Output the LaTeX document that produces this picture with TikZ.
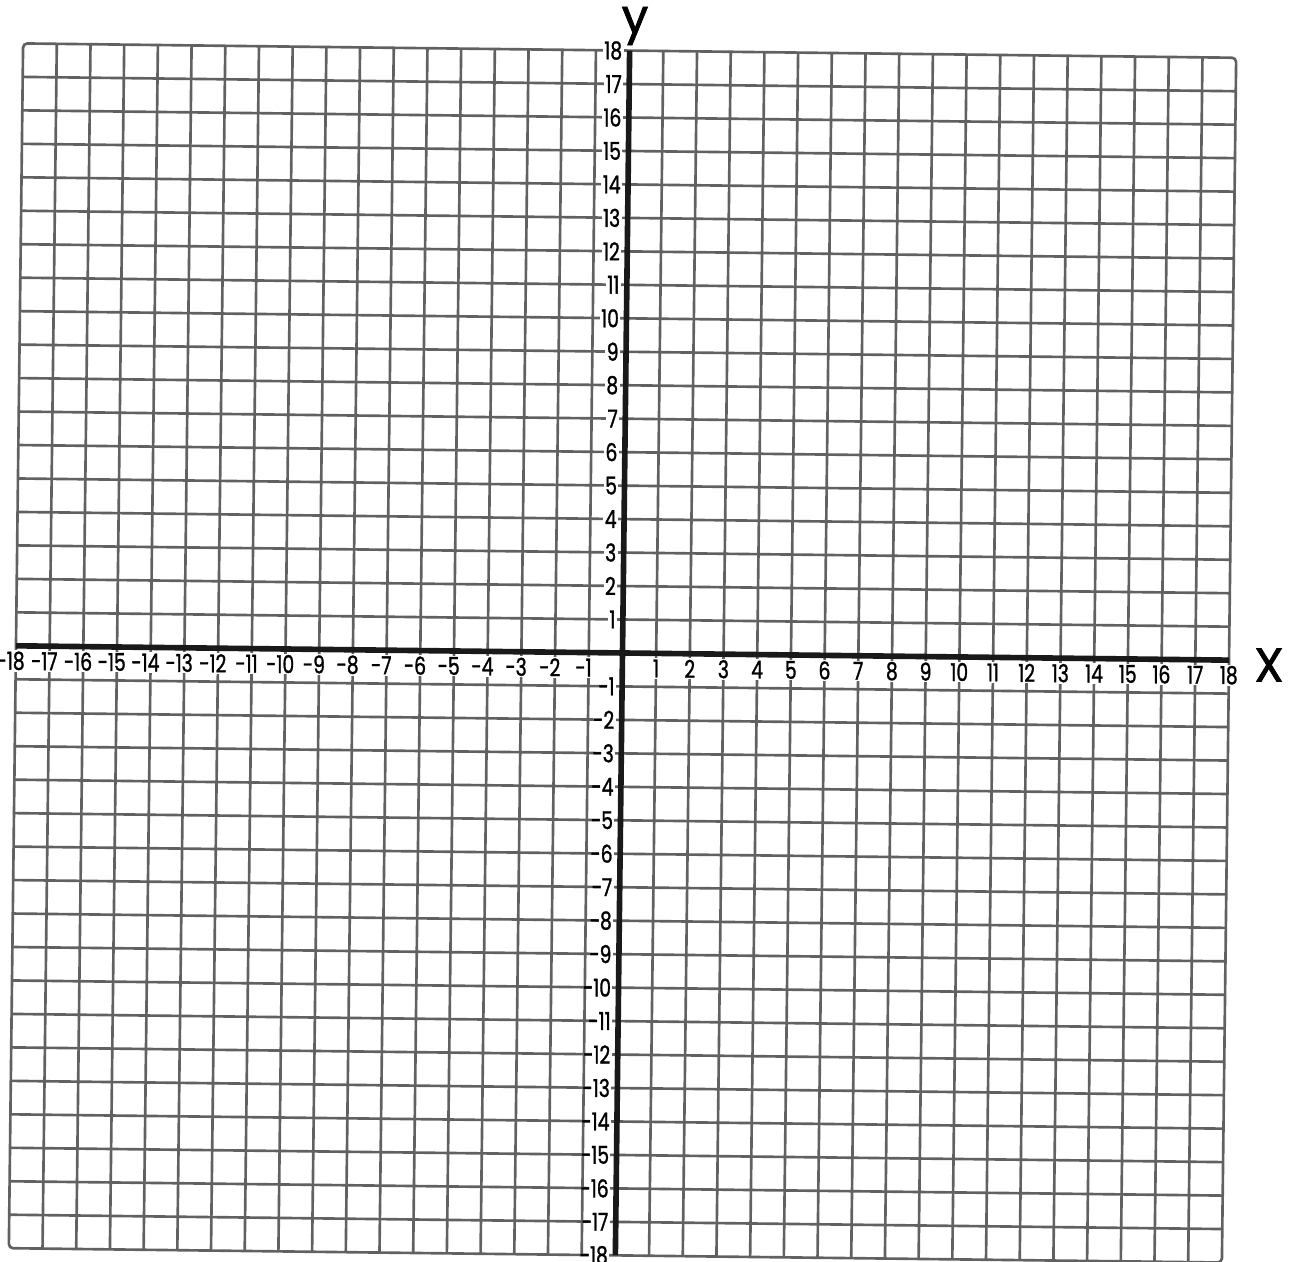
\documentclass[tikz,border=0pt]{standalone}
\usepackage{fontspec}
\setmainfont{Poppins}
\newfontfamily\numfont[FakeStretch=0.76,FakeBold=1.2]{Poppins}
\newfontfamily\labfont[FakeBold=1.5]{Poppins}
\begin{document}
\begin{tikzpicture}[
  gridline/.style={draw=black!62, line width=0.75pt},
  axisline/.style={draw=black!90, line width=1.6pt},
  xnum/.style={fill=white, inner sep=0.4pt, font=\numfont\fontsize{7}{7}\selectfont},
  ynum/.style={fill=white, inner sep=0.4pt, anchor=east, font=\numfont\fontsize{7}{7}\selectfont},
  axlabel/.style={font=\labfont\fontsize{13.5}{13.5}\selectfont, inner sep=0pt}
]
\useasboundingbox (0,0) rectangle (12.89,12.62);
\fill[white] (0,0) rectangle (12.89,12.62);
\begin{scope}[shift={(6.225,6.09)}, rotate=-0.68, xscale=0.337, yscale=0.3347]
  \foreach \k in {-17,...,17} {
    \draw[gridline] (\k,-18) -- (\k,18);
    \draw[gridline] (-18,\k) -- (18,\k);
  }
  \draw[gridline, rounded corners=1.2pt] (-18,-18) rectangle (18,18);
  \draw[axisline] (-18,0) coordinate (xl) -- (18,0) coordinate (xr);
  \draw[axisline] (0,-18) coordinate (yb) -- (0,18) coordinate (yt);
  \foreach \i in {1,...,18} {
    \node[xnum] (xp\i) at (\i,-0.45) {\i};
    \node[xnum] (xn\i) at (-\i,-0.45) {\llap{-}\i};
    \node[ynum] (yp\i) at (-0.16,\i) {\i};
    \node[ynum] (yn\i) at (-0.16,-\i) {\llap{-}\i};
  }
\end{scope}
\node[axlabel] (ylab) at (6.35,12.36) {y};
\node[axlabel] (xlab) at (12.69,5.97) {X};
\end{tikzpicture}
\end{document}
